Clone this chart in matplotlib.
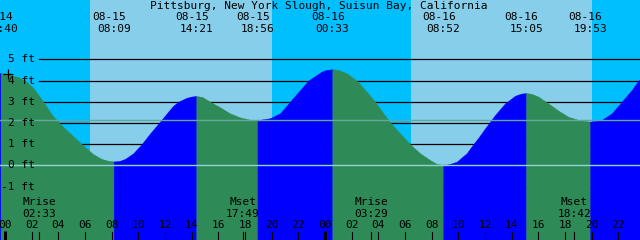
import matplotlib
matplotlib.use('Agg')
import matplotlib.pyplot as plt
import numpy as np

# tide height readings, hours since 08-15 00:00 -> feet
hours = [-0.7, -0.333, 0.25, 1.0, 1.5, 2.125, 2.875, 3.5, 4.08, 4.625, 5.25, 5.75,
         6.625, 7.25, 7.7, 8.15,
         8.6, 9.0, 9.625, 10.25, 10.875, 11.55, 12.2, 12.6, 13.0, 13.6, 13.95, 14.35,
         14.8, 15.375, 16.125, 16.875, 17.625, 18.375, 18.933,
         19.875, 20.625, 21.375, 22.125, 22.75, 23.75, 24.1, 24.55,
         25.0, 25.625, 26.375, 27.125, 27.75, 28.375, 28.925, 29.625, 30.375, 31.125,
         31.875, 32.4, 32.867,
         33.3, 33.875, 34.625, 35.125, 35.5, 36.0, 36.75, 37.5, 38.25, 38.7, 39.083,
         39.5, 40.0, 40.75, 41.5, 42.25, 43.0, 43.883,
         44.75, 45.5, 46.25, 47.0, 47.5, 48.0]
feet = [4.31, 4.36, 4.29, 4.15, 4.0, 3.65, 3.0, 2.4, 2.0, 1.65, 1.3, 1.0,
        0.52, 0.3, 0.22, 0.18,
        0.21, 0.3, 0.57, 1.0, 1.5, 2.0, 2.5, 2.8, 3.0, 3.18, 3.24, 3.27,
        3.22, 3.0, 2.74, 2.45, 2.26, 2.15, 2.13,
        2.22, 2.45, 3.0, 3.55, 4.0, 4.42, 4.5, 4.53,
        4.5, 4.34, 4.0, 3.47, 3.0, 2.45, 2.0, 1.51, 1.0, 0.57,
        0.25, 0.06, 0.01,
        0.05, 0.17, 0.57, 1.0, 1.3, 1.74, 2.37, 2.92, 3.28, 3.38, 3.41,
        3.37, 3.24, 2.92, 2.58, 2.29, 2.14, 2.06,
        2.14, 2.45, 3.0, 3.55, 4.0, 4.3]

# high / low tide events
event_hours = [-0.333, 8.15, 14.35, 18.933, 24.55, 32.867, 39.083, 43.883]
event_dates = ['08-14', '08-15', '08-15', '08-15', '08-16', '08-16', '08-16', '08-16']
event_times = ['23:40', '08:09', '14:21', '18:56', '00:33', '08:52', '15:05', '19:53']

sunrise = [6.375, 30.45]
sunset = [20.02, 44.0]

moon_hours = [2.55, 17.817, 27.483, 42.7]
moon_names = ['Mrise', 'Mset', 'Mrise', 'Mset']
moon_times = ['02:33', '17:49', '03:29', '18:42']

ft_levels = [5, 4, 3, 2, 1, 0, -1]
msl = 2.12

night_c = '#00BFFF'
day_c = '#87CEEB'
ebb_c = '#2E8B57'
flood_c = '#0000FF'

W, H = 640, 240
x0_px, px_per_h = 5.0, 40.0 / 3.0
y0_px, px_per_ft = 165.3, 21.2

fig = plt.figure(figsize=(6.4, 2.4), dpi=100)
ax = fig.add_axes([0, 0, 1, 1])
ax.axis('off')
xl = (-x0_px / px_per_h, (W - x0_px) / px_per_h)
yl = ((y0_px - H) / px_per_ft, y0_px / px_per_ft)
ax.set_xlim(*xl)
ax.set_ylim(*yl)

# sky background
ax.axvspan(xl[0], xl[1], color=night_c, zorder=0, lw=0)
for r, s in zip(sunrise, sunset):
    ax.axvspan(r, s, color=day_c, zorder=0.5, lw=0)

# grid lines behind the water
for lv in ft_levels:
    ax.axhline(lv, xmin=39 / W, xmax=1, color='black', lw=0.9, zorder=1)

# water, split at each high/low
t = np.array(hours)
h = np.array(feet)
bounds = [t[0]] + event_hours + [t[-1]]
for a, b in zip(bounds[:-1], bounds[1:]):
    m = (t >= a) & (t <= b)
    if m.sum() < 2:
        continue
    col = flood_c if h[m][-1] > h[m][0] else ebb_c
    ax.fill_between(t[m], h[m], yl[0], color=col, lw=0.3, ec=col, zorder=2)

ax.axhline(0, color='#8FD3D3', lw=1.0, zorder=3)
ax.axhline(msl, color='#62A89E', lw=1.0, zorder=3)

ax.plot([0.19], [4.31], marker='+', color='black', ms=7, mew=0.9, zorder=4)

fnt = dict(family='DejaVu Sans Mono', fontsize=8, color='black', zorder=5)
xt = ax.get_xaxis_transform()


def fy(py):
    return 1 - py / H


fig.text(318.5 / W, fy(6), 'Pittsburg, New York Slough, Suisun Bay, California',
         ha='center', va='center', family='DejaVu Sans Mono', fontsize=8)

for eh, d, tm in zip(event_hours, event_dates, event_times):
    ax.text(eh - 4.5 / px_per_h, fy(17), d, transform=xt, ha='center', va='center', **fnt)
    ax.text(eh, fy(29), tm, transform=xt, ha='center', va='center', **fnt)

for lv in ft_levels:
    ax.text(xl[0] + 35 / px_per_h, lv, f'{lv} ft', ha='right', va='center', **fnt)

for mh, n, tm in zip(moon_hours, moon_names, moon_times):
    ax.text(mh, fy(202), n, transform=xt, ha='center', va='center', **fnt)
    ax.text(mh, fy(214), tm, transform=xt, ha='center', va='center', **fnt)
    ax.plot([mh, mh], [0, 8 / H], transform=xt, color='black', lw=0.8, zorder=5)

for hr in range(0, 49, 2):
    ax.text(hr, fy(225), f'{hr % 24:02d}', transform=xt, ha='center', va='center', **fnt)
    if hr % 24 == 0:
        ax.plot([hr, hr], [0, 9.5 / H], transform=xt, color='black', lw=2.2, zorder=5,
                solid_capstyle='butt')
    else:
        ax.plot([hr, hr], [0, 8 / H], transform=xt, color='black', lw=0.8, zorder=5)

fig.savefig('out.png', dpi=100)
